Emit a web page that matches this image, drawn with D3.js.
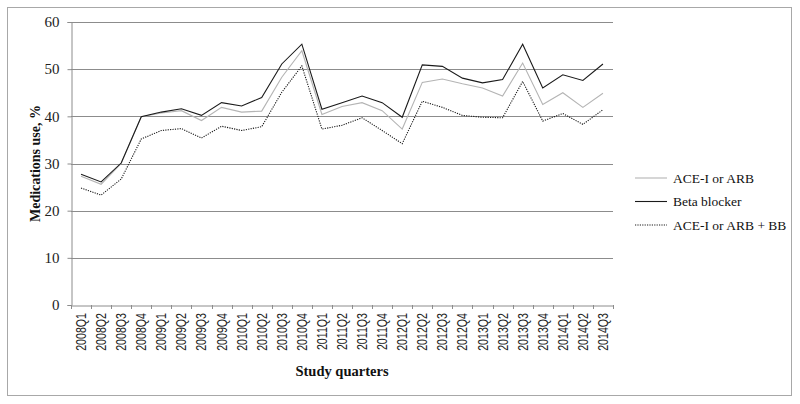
<!DOCTYPE html>
<html>
<head>
<meta charset="utf-8">
<script src="https://cdn.jsdelivr.net/npm/d3@7"></script>
<style>
  body { margin: 0; background: #fff; }
</style>
</head>
<body>
<svg width="800" height="404"></svg>
<script>
const quarters = ["2008Q1","2008Q2","2008Q3","2008Q4","2009Q1","2009Q2","2009Q3","2009Q4",
  "2010Q1","2010Q2","2010Q3","2010Q4","2011Q1","2011Q2","2011Q3","2011Q4",
  "2012Q1","2012Q2","2012Q3","2012Q4","2013Q1","2013Q2","2013Q3","2013Q4",
  "2014Q1","2014Q2","2014Q3"];

const aceArb = [27.3,25.6,30.0,39.9,40.7,41.2,39.1,41.9,40.9,41.1,48.3,53.9,40.4,42.1,42.9,41.2,
  37.3,47.2,47.9,46.9,46.0,44.3,51.3,42.5,45.0,41.9,44.9];
const betaBlocker = [27.7,26.1,30.1,39.9,40.9,41.6,40.2,42.9,42.2,44.0,51.1,55.3,41.5,42.9,44.3,42.9,
  39.8,50.9,50.6,48.1,47.1,47.8,55.3,46.0,48.8,47.6,51.1];
const aceArbBB = [24.8,23.3,26.7,35.2,37.0,37.4,35.4,37.9,37.0,37.8,45.1,50.7,37.3,38.1,39.7,37.0,
  34.2,43.2,41.9,40.2,39.8,39.7,47.4,39.0,40.6,38.3,41.4];

const yTicks = [0, 10, 20, 30, 40, 50, 60];

const series = [
  { name: "ACE-I or ARB", values: aceArb, color: "#b4b4b4", dash: null },
  { name: "Beta blocker", values: betaBlocker, color: "#1a1a1a", dash: null },
  { name: "ACE-I or ARB + BB", values: aceArbBB, color: "#1a1a1a", dash: "1.2,1.2" }
];

const svg = d3.select("svg");

// outer frame
svg.append("rect")
  .attr("x", 7.5).attr("y", 7.5)
  .attr("width", 784).attr("height", 388)
  .attr("fill", "none")
  .attr("stroke", "#a8a8a8")
  .attr("stroke-width", 1);

const mLeft = 71, mRight = 613, mTop = 22, mBottom = 305;

const x = d3.scaleBand().domain(quarters).range([mLeft, mRight]);
const y = d3.scaleLinear().domain([0, 60]).range([mBottom, mTop]);

// gridlines
svg.append("g")
  .selectAll("line")
  .data(yTicks.filter(d => d > 0))
  .join("line")
    .attr("x1", mLeft).attr("x2", mRight)
    .attr("y1", d => Math.round(y(d)) + 0.5)
    .attr("y2", d => Math.round(y(d)) + 0.5)
    .attr("stroke", "#8c8c8c");

// y axis
const yAxis = svg.append("g")
  .attr("transform", `translate(${mLeft + 0.5},0)`)
  .call(d3.axisLeft(y).tickValues(yTicks).tickSize(4).tickPadding(8));
yAxis.select(".domain").attr("stroke", "#8c8c8c");
yAxis.selectAll(".tick line").attr("stroke", "#8c8c8c");
yAxis.selectAll("text")
  .attr("font-family", "'Liberation Serif', serif")
  .attr("font-size", 15)
  .attr("fill", "#222");

// x axis
const xAxis = svg.append("g")
  .attr("transform", `translate(0,${mBottom + 0.5})`)
  .call(d3.axisBottom(x).tickSize(0));
xAxis.select(".domain").attr("stroke", "#8c8c8c");
xAxis.selectAll(".tick line").remove();
xAxis.selectAll("text").remove();

// boundary tick marks
svg.append("g")
  .selectAll("line")
  .data(d3.range(quarters.length + 1))
  .join("line")
    .attr("x1", i => Math.round(mLeft + i * x.step()) + 0.5)
    .attr("x2", i => Math.round(mLeft + i * x.step()) + 0.5)
    .attr("y1", mBottom)
    .attr("y2", mBottom + 4)
    .attr("stroke", "#8c8c8c");

svg.append("g")
  .selectAll("text")
  .data(quarters)
  .join("text")
    .attr("transform", d => `translate(${x(d) + x.bandwidth() / 2 + 5},${mBottom + 8}) rotate(-90) scale(0.76,1)`)
    .attr("text-anchor", "end")
    .attr("font-family", "'Liberation Sans', Arial, sans-serif")
    .attr("font-size", 14)
    .attr("fill", "#222")
    .text(d => d);

// lines
const line = d3.line()
  .x((d, i) => x(quarters[i]) + x.bandwidth() / 2)
  .y(d => y(d));

svg.append("g")
  .selectAll("path")
  .data(series)
  .join("path")
    .attr("d", d => line(d.values))
    .attr("fill", "none")
    .attr("stroke", d => d.color)
    .attr("stroke-width", 1.1)
    .attr("stroke-dasharray", d => d.dash);

// axis titles
svg.append("text")
  .attr("x", (mLeft + mRight) / 2)
  .attr("y", 376)
  .attr("text-anchor", "middle")
  .attr("font-family", "'Liberation Serif', serif")
  .attr("font-weight", "bold")
  .attr("font-size", 14.5)
  .attr("fill", "#111")
  .text("Study quarters");

svg.append("text")
  .attr("transform", `translate(40,${(mTop + mBottom) / 2}) rotate(-90)`)
  .attr("text-anchor", "middle")
  .attr("font-family", "'Liberation Serif', serif")
  .attr("font-weight", "bold")
  .attr("font-size", 14)
  .attr("fill", "#111")
  .text("Medications use, %");

// legend
const legend = svg.append("g")
  .selectAll("g")
  .data(series)
  .join("g")
    .attr("transform", (d, i) => `translate(635,${178 + i * 23.5})`);

legend.append("line")
  .attr("x1", 0).attr("x2", 32)
  .attr("stroke", d => d.color)
  .attr("stroke-width", 1.1)
  .attr("stroke-dasharray", d => d.dash);

legend.append("text")
  .attr("x", 38)
  .attr("dy", "0.35em")
  .attr("font-family", "'Liberation Serif', serif")
  .attr("font-size", 13.5)
  .attr("fill", "#111")
  .text(d => d.name);
</script>
</body>
</html>
